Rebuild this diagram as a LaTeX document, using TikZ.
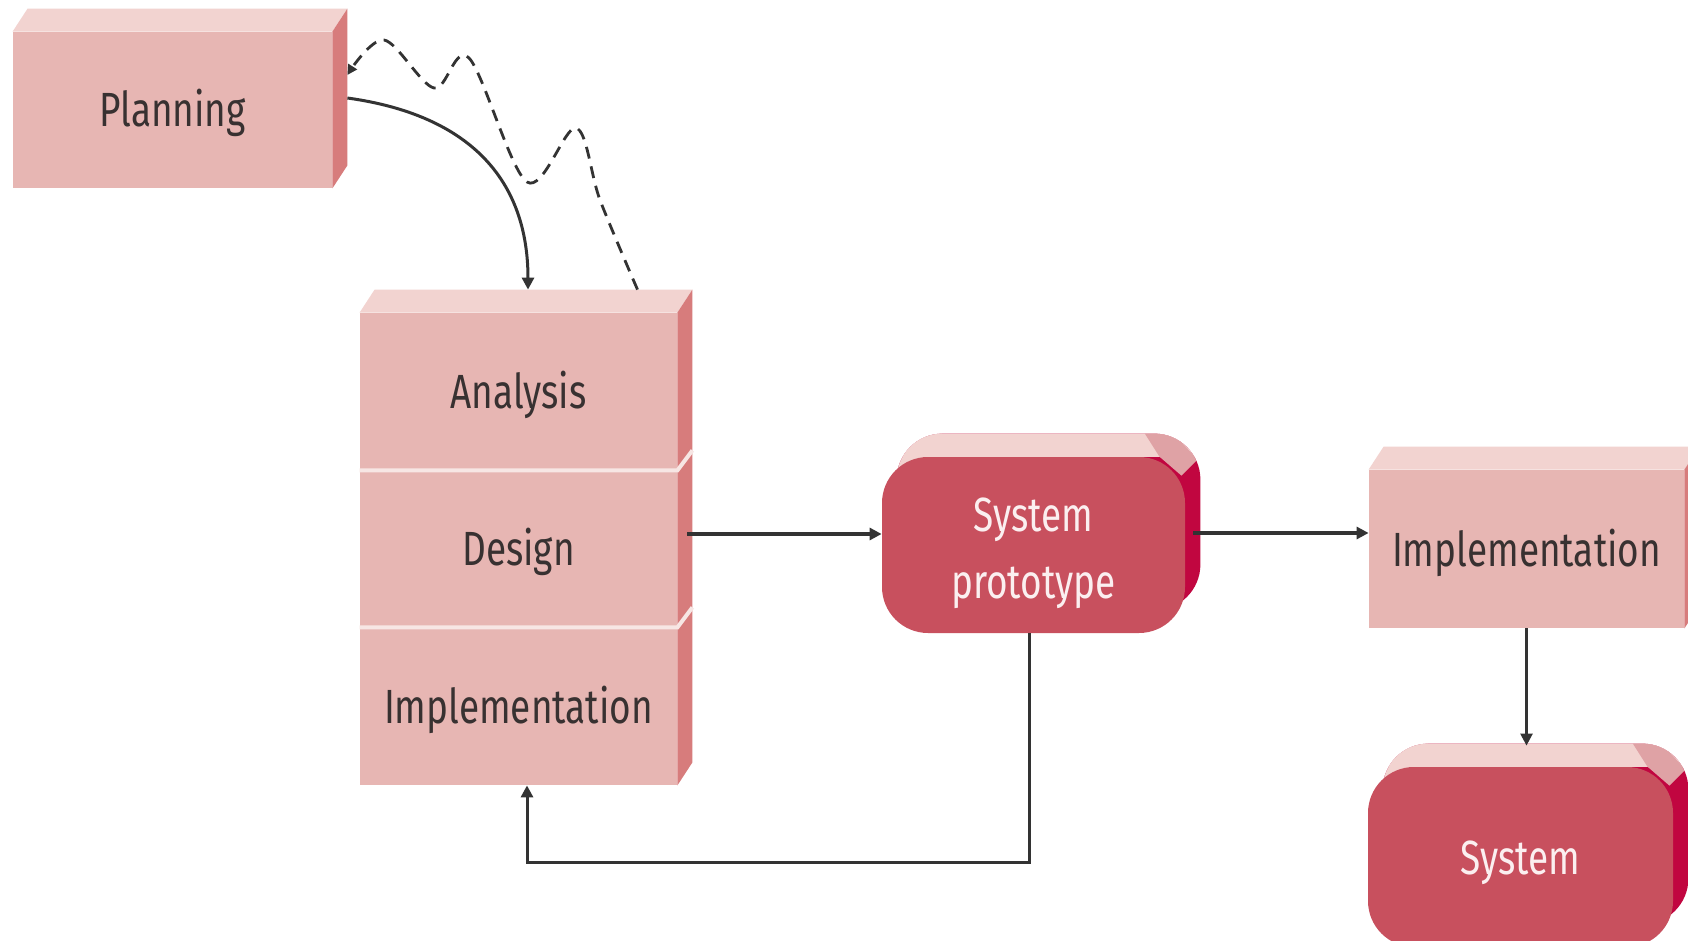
\documentclass[tikz,border=0pt]{standalone}
\usepackage{fontspec}
\setmainfont{Fira Sans}[FakeStretch=0.77]
\usetikzlibrary{arrows.meta,calc,backgrounds}
\definecolor{pinkF}{HTML}{E7B6B3}
\definecolor{pinkT}{HTML}{F2D3D0}
\definecolor{pinkS}{HTML}{D77C7C}
\definecolor{redF}{HTML}{C8505E}
\definecolor{redS}{HTML}{C10640}
\definecolor{redP}{HTML}{DFA2A5}
\definecolor{divW}{HTML}{F7E6E4}
\definecolor{txtD}{HTML}{383131}
\definecolor{txtL}{HTML}{FBEFF0}
\definecolor{lineC}{HTML}{333333}
\newcommand\lblfont{\fontsize{24}{33.5}\selectfont}
\newcommand\pinkextrude[2]{%
  \fill[pinkT] (#1.north west) -- ++(15,-23) -- ([shift={(15,-23)}]#1.north east) -- (#1.north east) -- cycle;
  \fill[pinkS] (#1.north east) -- ++(15,-23) -- ([shift={(15,-23)}]#2.south east) -- (#2.south east) -- cycle;}
\newcommand\redextrude[1]{%
  \begin{scope}[on background layer]
  \fill[redS, rounded corners=23pt] ([shift={(15,-23)}]#1.north west) rectangle ([shift={(15,-23)}]#1.south east);
  \begin{scope}
  \clip[rounded corners=23pt] ([shift={(15,-23)}]#1.north west) rectangle ([shift={(15,-23)}]#1.south east);
  \fill[pinkT] ([shift={(-10,-40)}]#1.north west) rectangle ([shift={(30,0)}]#1.north east);
  \fill[pinkT] ([shift={(-10,-40)}]#1.north west) rectangle ([shift={(60,60)}]#1.north west);
  \fill[redP] ([shift={(-45,-30)}]#1.north east) -- ([shift={(-18,-30)}]#1.north east) -- ([shift={(12,3)}]#1.north east)
     -- ([shift={(-4,19)}]#1.north east) -- ([shift={(-26,0)}]#1.north east) -- cycle;
  \end{scope}
  \end{scope}}
\begin{document}
\begin{tikzpicture}[x=0.5pt,y=-0.5pt,
  pinkbox/.style={fill=pinkF, inner sep=0pt, text=txtD, font=\lblfont, text height=17pt, text depth=0pt},
  redbox/.style={fill=redF, inner sep=0pt, text=txtL, font=\lblfont, rounded corners=23pt, align=center},
  divider/.style={draw=divW, line width=2pt},
  arr/.style={draw=lineC, line width=1.5pt, -{Triangle[length=6pt,width=6pt]}},
  arrthick/.style={arr, line width=2pt},
  arrthin/.style={arr, line width=1.2pt},
  wavy/.style={draw=lineC, line width=1.4pt, dash pattern=on 6pt off 4pt, -{Triangle[length=5pt,width=5pt]}}]
\path[use as bounding box] (0,0) rectangle (1688,941);
\begin{scope}[on background layer]
\fill[white] (0,0) rectangle (1688,941);
\end{scope}
\clip (0,0) rectangle (1688,941);

% pink boxes
\node[pinkbox, minimum width=159.5pt, minimum height=78pt] (plan) at (172.5,110) {Planning};
\node[pinkbox, minimum width=158.5pt, minimum height=78.5pt] (ana) at (518.5,391.5) {Analysis};
\node[pinkbox, minimum width=158.5pt, minimum height=78.5pt] (des) at (518.5,548.5) {Design};
\node[pinkbox, minimum width=158.5pt, minimum height=79pt] (imp) at (518.5,706) {Implementation};
\node[pinkbox, minimum width=157.5pt, minimum height=79pt] (impr) at (1526.5,549) {Implementation};
\pinkextrude{plan}{plan}
\pinkextrude{ana}{imp}
\pinkextrude{impr}{impr}
\draw[divider] (ana.south west) -- (ana.south east) -- ++(15,-20);
\draw[divider] (des.south west) -- (des.south east) -- ++(15,-20);

% red boxes
\node[redbox, minimum width=151.5pt, minimum height=88pt] (proto) at (1033.5,545) {\rule{0pt}{25pt}System\\prototype};
\node[redbox, minimum width=152.5pt, minimum height=90pt, text height=17pt, text depth=0pt] (sys) at (1520.5,857) {System};
\redextrude{proto}
\redextrude{sys}

% connectors
\coordinate (dsA) at ([shift={(10,-14.5)}]des.east);
\draw[arrthick] (dsA) -- (proto.west |- dsA);
\coordinate (psA) at ([shift={(8,-12)}]proto.east);
\draw[arrthick] (psA) -- (impr.west |- psA);
\coordinate (syT) at ([shift={(0,-21)}]sys.north);
\draw[arrthin] (impr.south) -- (impr.south |- syT);
\coordinate (fbY) at (0,862);
\coordinate (pb) at ([xshift=-2.25pt]proto.south);
\coordinate (ib) at ([xshift=4.25pt]imp.south);
\draw[arr] (pb) -- (pb |- fbY) -- (ib |- fbY) -- (ib);
\coordinate (ps) at ([shift={(15,-12)}]plan.east);
\coordinate (at) at ([shift={(9.5,-23)}]ana.north);
\draw[arr] (ps) .. controls (470,115) and (528,180) .. (at);
\coordinate (ds) at ([shift={(119,-23)}]ana.north);
\coordinate (de) at ([shift={(15,-35)}]plan.east);
\draw[wavy] plot[smooth, tension=0.55] coordinates {(ds) (600,200) (576,128) (527,182) (469,58) (434,88) (384,40) (de)};
\end{tikzpicture}
\end{document}
